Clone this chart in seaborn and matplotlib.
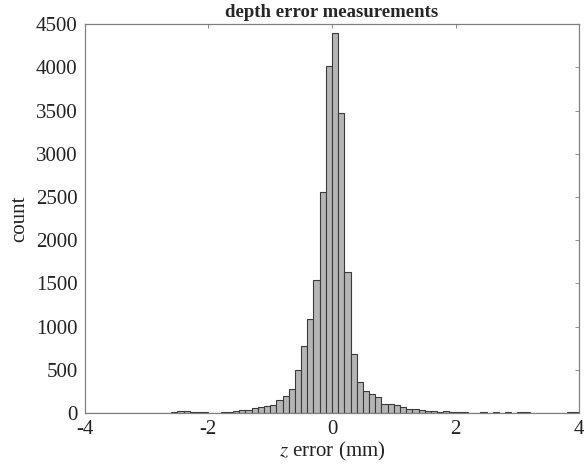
import numpy as np
import pandas as pd
import matplotlib
matplotlib.use("Agg")
import matplotlib.pyplot as plt
import seaborn as sns

# Histogram data: left edge of each 0.1 mm bin and its count (bins not listed are empty)
bin_left = [-2.6, -2.5, -2.4, -2.3, -2.2, -2.1,
            -1.8, -1.7, -1.6, -1.5, -1.4, -1.3, -1.2, -1.1, -1.0,
            -0.9, -0.8, -0.7, -0.6, -0.5, -0.4, -0.3, -0.2, -0.1,
            0.0, 0.1, 0.2, 0.3, 0.4, 0.5, 0.6, 0.7, 0.8, 0.9,
            1.0, 1.1, 1.2, 1.3, 1.4, 1.5, 1.6, 1.7, 1.8, 1.9,
            2.0, 2.1, 2.4, 2.6, 2.8, 3.0, 3.1, 3.8, 3.9]
counts = [15, 27, 20, 12, 12, 5,
          12, 15, 27, 38, 30, 54, 65, 77, 92,
          145, 198, 277, 496, 770, 1085, 1535, 2562, 4010,
          4400, 3470, 1635, 685, 358, 254, 223, 180, 100, 98,
          88, 65, 50, 40, 31, 23, 19, 12, 19, 12,
          8, 8, 7, 7, 6, 7, 5, 5, 5]
bin_width = 0.1
x_ticks = [-4, -2, 0, 2, 4]
y_ticks = [0, 500, 1000, 1500, 2000, 2500, 3000, 3500, 4000, 4500]

df = pd.DataFrame({"z": np.array(bin_left) + bin_width / 2, "n": counts})
edges = [round(-4.0 + i * bin_width, 3) for i in range(81)]

sns.set_style("white")
plt.rcParams["font.family"] = ["Liberation Serif", "DejaVu Serif"]
plt.rcParams["mathtext.fontset"] = "stix"

fig = plt.figure(figsize=(5.84, 4.73), dpi=100)
ax = fig.add_axes([0.145, 0.127, 0.847, 0.822])

sns.histplot(data=df, x="z", weights="n", bins=edges, ax=ax,
             color="#b5b5b5", edgecolor="#3a3a3a", linewidth=0.8, alpha=1.0)

ax.set_xlim(-4, 4)
ax.set_ylim(0, 4500)
ax.set_xticks(x_ticks)
ax.set_xticklabels([str(t) for t in x_ticks])
ax.set_yticks(y_ticks)
ax.set_yticklabels([str(t) for t in y_ticks])
ax.tick_params(direction="in", length=3, width=0.6, color="#7f7f7f",
               labelsize=15, top=True, right=True, pad=5, labelcolor="#222222")
for s in ax.spines.values():
    s.set_visible(True)
    s.set_color("#808080")
    s.set_linewidth(0.9)

ax.set_xlabel(r"$\mathit{z}$ error (mm)", fontsize=15, color="#222222", labelpad=1)
ax.set_ylabel("count", fontsize=15, color="#222222", labelpad=5)
ax.set_title("depth error measurements", fontsize=13.5, fontweight="bold", pad=5)

fig.savefig("out.png", dpi=100)
